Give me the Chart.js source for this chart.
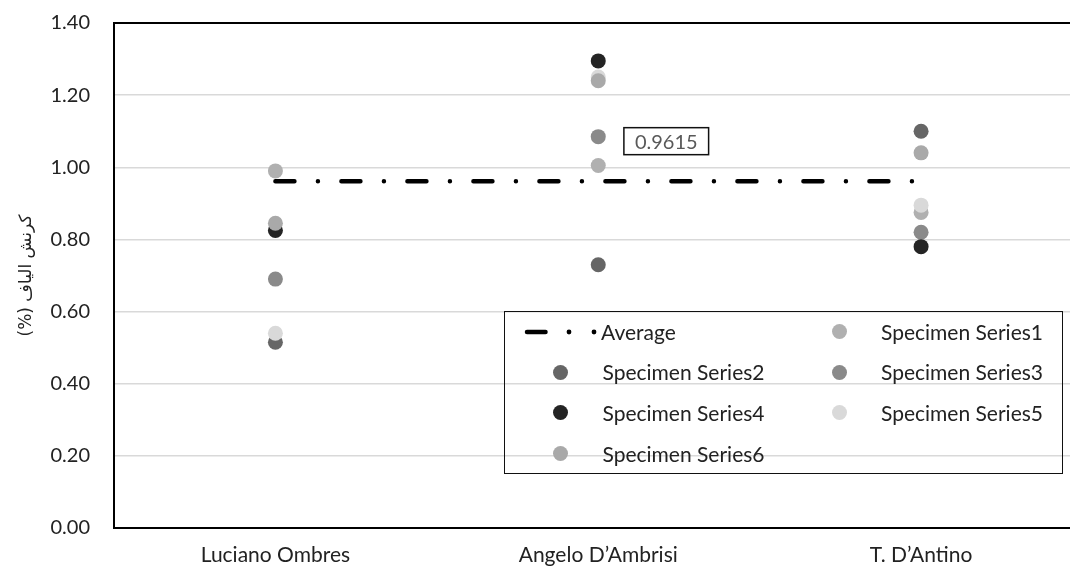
<!DOCTYPE html>
<html>
<head>
<meta charset="utf-8">
<script src="https://cdn.jsdelivr.net/npm/chart.js@4"></script>
<style>
  html, body { margin: 0; padding: 0; background: #fff; overflow: hidden; width: 1070px; height: 570px; }
  #wrap { position: relative; width: 1070px; height: 570px; overflow: hidden; }
  #chart { position: absolute; left: 0; top: 0; }
  #legend { position: absolute; left: 504px; top: 311px; width: 557px; height: 161px; border: 1.5px solid #111; font-family: Lato, sans-serif; font-size: 21px; color: #222; }
  .item { position: absolute; height: 26px; line-height: 26px; white-space: nowrap; }
  .dot { position: absolute; width: 15px; height: 15px; border-radius: 50%; }
  .avg { position: absolute; }
</style>
</head>
<body>
<div id="wrap">
  <canvas id="chart" width="1100" height="570"></canvas>
  <div id="legend"></div>
</div>
<script>
const categories = ['Luciano Ombres', 'Angelo D’Ambrisi', 'T. D’Antino'];
const averageValues = [0.9615, 0.9615, 0.9615];
const series1 = [0.99, 1.005, 0.875];
const series2 = [0.515, 0.73, 1.10];
const series3 = [0.69, 1.085, 0.82];
const series4 = [0.825, 1.295, 0.78];
const series5 = [0.54, 1.25, 0.895];
const series6 = [0.845, 1.24, 1.04];
const yTicks = [0, 0.2, 0.4, 0.6, 0.8, 1.0, 1.2, 1.4];
const yTitle = 'كرنش الياف (%)';
const seriesNames = ['Average', 'Specimen Series1', 'Specimen Series2', 'Specimen Series3', 'Specimen Series4', 'Specimen Series5', 'Specimen Series6'];
const seriesColors = ['#000000', '#b0b0b0', '#666666', '#8a8a8a', '#242424', '#d9d9d9', '#a9a9a9'];

Chart.defaults.font.family = 'Lato, sans-serif';

// target plot frame (pixels)
const FRAME = { left: 114, top: 23, right: 1082.5, bottom: 528 };

function pointSet(i, values) {
  return {
    label: seriesNames[i], data: values, showLine: false,
    pointRadius: 7.5, pointHoverRadius: 7.5, pointBorderWidth: 0,
    pointBackgroundColor: seriesColors[i], borderColor: seriesColors[i], backgroundColor: seriesColors[i],
    order: 7 - i, xAxisID: 'x', yAxisID: 'y'
  };
}

const avgLabelPlugin = {
  id: 'avgLabel',
  afterDatasetsDraw(chart) {
    const meta = chart.getDatasetMeta(0);
    const pt = meta.data[1];
    if (!pt) return;
    const ctx = chart.ctx;
    const txt = averageValues[1].toFixed(4);
    ctx.save();
    ctx.font = '20px Lato, sans-serif';
    const w = ctx.measureText(txt).width + 22;
    const h = 27;
    const cx = pt.x + 68, cy = pt.y - 40;
    ctx.fillStyle = '#fff';
    ctx.fillRect(cx - w / 2, cy - h / 2, w, h);
    ctx.strokeStyle = '#111';
    ctx.lineWidth = 1.5;
    ctx.strokeRect(cx - w / 2, cy - h / 2, w, h);
    ctx.fillStyle = '#595959';
    ctx.textAlign = 'center';
    ctx.textBaseline = 'middle';
    ctx.fillText(txt, cx, cy + 1);
    ctx.restore();
  }
};

const chart = new Chart(document.getElementById('chart'), {
  type: 'line',
  data: {
    labels: categories,
    datasets: [
      {
        label: seriesNames[0], data: averageValues, borderColor: seriesColors[0], backgroundColor: seriesColors[0],
        borderWidth: 4.5, borderDash: [19, 23.5, 0.001, 23.5], borderCapStyle: 'round',
        pointRadius: 0, pointHoverRadius: 0, fill: false, tension: 0, order: 10, xAxisID: 'x', yAxisID: 'y'
      },
      pointSet(1, series1), pointSet(2, series2), pointSet(3, series3),
      pointSet(4, series4), pointSet(5, series5), pointSet(6, series6)
    ]
  },
  options: {
    responsive: false, animation: false, events: [],
    layout: { autoPadding: false, padding: { top: FRAME.top, right: 1100 - FRAME.right, bottom: 0, left: 0 } },
    plugins: { legend: { display: false }, tooltip: { enabled: false } },
    scales: {
      x: {
        type: 'category', offset: true,
        grid: { display: false, drawTicks: false },
        border: { display: true, color: '#000', width: 2 },
        ticks: { color: '#222', font: { size: 21 }, padding: 15, maxRotation: 0, autoSkip: false },
        afterFit(s) { s.height = 42; }
      },
      xTop: {
        type: 'category', position: 'top', offset: true,
        grid: { display: false, drawTicks: false },
        border: { display: true, color: '#000', width: 2 },
        ticks: { display: false },
        afterFit(s) { s.height = 0; }
      },
      y: {
        min: 0, max: 1.4,
        afterBuildTicks(s) { s.ticks = yTicks.map(v => ({ value: v })); },
        ticks: { callback: v => Number(v).toFixed(2), color: '#222', font: { size: 20 }, padding: 4 },
        grid: { color: '#d9d9d9', lineWidth: 1.5, drawTicks: true, tickLength: 20, tickColor: 'rgba(0,0,0,0)' },
        border: { display: true, color: '#000', width: 2 },
        title: { display: true, text: yTitle + '\u200F', color: '#222', font: { size: 17, family: 'DejaVu Sans, sans-serif' }, padding: { top: 16, bottom: 0 } },
        afterFit(s) { s.width = FRAME.left; }
      }
    }
  },
  plugins: [avgLabelPlugin]
});

// calibrate the plot frame to the target rectangle
for (let k = 0; k < 4; k++) {
  const a = chart.chartArea;
  const p = chart.options.layout.padding;
  const dTop = FRAME.top - a.top, dBottom = a.bottom - FRAME.bottom, dRight = a.right - FRAME.right;
  if (Math.abs(dTop) < 0.2 && Math.abs(dBottom) < 0.2 && Math.abs(dRight) < 0.2) break;
  p.top = Math.max(0, p.top + dTop); p.bottom = Math.max(0, p.bottom + dBottom); p.right = Math.max(0, p.right + dRight);
  chart.update();
}

// Legend built from the chart's own datasets
(function buildLegend() {
  const box = document.getElementById('legend');
  const rowCenters = [19.5, 60.2, 100.9, 141.6];
  const markerX = [55, 334.5];
  const textX = [97.5, 376];
  chart.data.datasets.forEach((ds, i) => {
    const col = i % 2, row = Math.floor(i / 2);
    const cy = rowCenters[row];
    if (i === 0) {
      const svg = document.createElementNS('http://www.w3.org/2000/svg', 'svg');
      svg.setAttribute('width', '100'); svg.setAttribute('height', '12');
      svg.setAttribute('class', 'avg');
      svg.style.left = '0px'; svg.style.top = (cy - 6) + 'px';
      svg.innerHTML = '<line x1="22" y1="6" x2="40.5" y2="6" stroke="' + ds.borderColor + '" stroke-width="4.5" stroke-linecap="round"/>' +
        '<circle cx="64" cy="6" r="2.4" fill="' + ds.borderColor + '"/>' +
        '<circle cx="89" cy="6" r="2.4" fill="' + ds.borderColor + '"/>';
      box.appendChild(svg);
      const t = document.createElement('div');
      t.className = 'item'; t.textContent = ds.label;
      t.style.left = '96px'; t.style.top = (cy - 13) + 'px';
      box.appendChild(t);
    } else {
      const d = document.createElement('div');
      d.className = 'dot';
      d.style.background = ds.pointBackgroundColor;
      d.style.left = (markerX[col] - 7.5) + 'px'; d.style.top = (cy - 7.5) + 'px';
      box.appendChild(d);
      const t = document.createElement('div');
      t.className = 'item'; t.textContent = ds.label;
      t.style.left = textX[col] + 'px'; t.style.top = (cy - 13) + 'px';
      box.appendChild(t);
    }
  });
})();
</script>
</body>
</html>
